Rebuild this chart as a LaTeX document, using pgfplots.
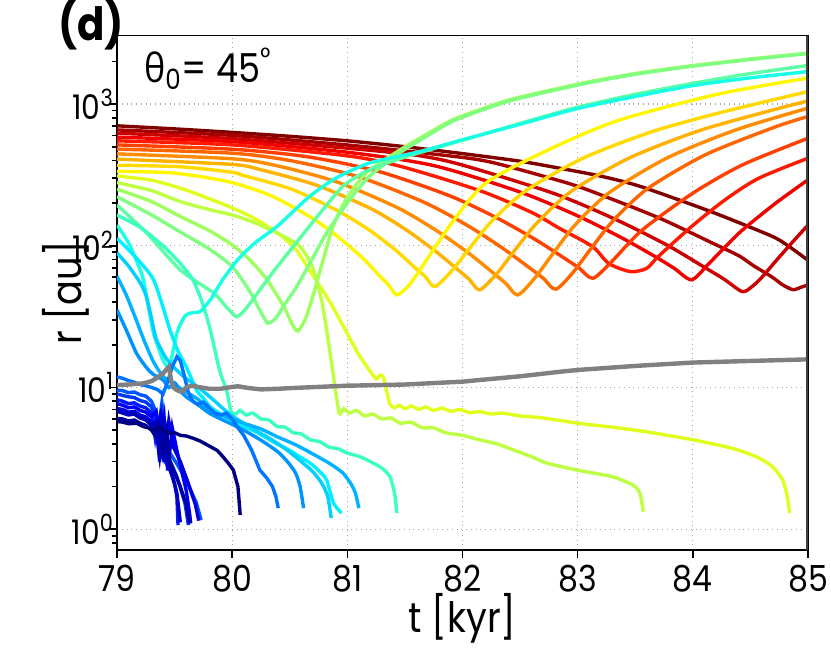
\documentclass[border=0pt]{standalone}
\usepackage{fontspec}
\setmainfont{Poppins}[FakeStretch=0.88]
\newfontfamily\greekfont{Open Sans}[FakeStretch=0.9]
\usepackage{pgfplots}
\pgfplotsset{compat=1.18}
\definecolor{c1}{rgb}{0.5,0,0}
\definecolor{c2}{rgb}{0.65,0,0}
\definecolor{c3}{rgb}{0.80,0,0}
\definecolor{c4}{rgb}{0.95,0,0}
\definecolor{c5}{rgb}{1,0.10,0}
\definecolor{c6}{rgb}{1,0.25,0}
\definecolor{c7}{rgb}{1,0.40,0}
\definecolor{c8}{rgb}{1,0.55,0}
\definecolor{c9}{rgb}{1,0.70,0}
\definecolor{c10}{rgb}{1,0.85,0}
\definecolor{c11}{rgb}{1,0.97,0}
\definecolor{c12}{rgb}{0.88,1,0.12}
\definecolor{c13}{rgb}{0.74,1,0.26}
\definecolor{c14}{rgb}{0.62,1,0.38}
\definecolor{c15}{rgb}{0.50,1,0.50}
\definecolor{c16}{rgb}{0.36,1,0.64}
\definecolor{c17}{rgb}{0.24,1,0.76}
\definecolor{c18}{rgb}{0.10,1,0.90}
\definecolor{c19}{rgb}{0,0.94,1}
\definecolor{c20}{rgb}{0,0.82,1}
\definecolor{c21}{rgb}{0,0.70,1}
\definecolor{c22}{rgb}{0,0.58,1}
\definecolor{c23}{rgb}{0,0.46,1}
\definecolor{c24}{rgb}{0,0.34,1}
\definecolor{c25}{rgb}{0,0.22,1}
\definecolor{c26}{rgb}{0,0.10,1}
\definecolor{c27}{rgb}{0,0,0.98}
\definecolor{c28}{rgb}{0,0,0.86}
\definecolor{c29}{rgb}{0,0,0.74}
\definecolor{c30}{rgb}{0,0,0.62}
\definecolor{c31}{rgb}{0,0,0.5}
\definecolor{gline}{rgb}{0.5,0.5,0.5}
\begin{document}
\begin{tikzpicture}
\useasboundingbox (-58.5bp,-49.5bp) rectangle (357bp,275bp);
\begin{axis}[
  scale only axis, width=345.5bp, height=257.15bp,
  xmin=79, xmax=85, ymode=log, ymin=0.714, ymax=3035,
  xtick={79,80,81,82,83,84,85}, xticklabels={79,80,81,82,83,84,85},
  ytick={1,10,100,1000},
  yticklabels={10\textsuperscript{0},10\textsuperscript{1},10\textsuperscript{2},10\textsuperscript{3}},
  minor ytick={0.8,0.9,2,3,4,5,6,7,8,9,20,30,40,50,60,70,80,90,200,300,400,500,600,700,800,900,2000,3000},
  xtick pos=bottom, ytick pos=left, tick align=outside,
  major tick length=4bp, minor tick length=2.5bp,
  grid=major, grid style={dotted, black!35, line width=0.6bp},
  axis line style={line width=0.8bp},
  every tick/.style={black, line width=0.8bp},
  xticklabel style={font=\fontsize{18}{21}\selectfont},
  yticklabel style={font=\fontsize{17}{20}\selectfont, xshift=6bp},
  xlabel={t [kyr]}, ylabel={r [au]},
  label style={font=\fontsize{21}{25}\selectfont},
  xlabel style={at={(axis description cs:0.5,-0.133)}, anchor=center},
  ylabel style={at={(axis description cs:-0.074,0.5)}, anchor=center},
  every axis plot/.append style={line width=1.7bp},
  clip=true,
]
% ---- red family
\addplot[c1, smooth, tension=0.45] coordinates {(79,702) (79.5,668) (80,631) (80.5,592) (81,550) (81.5,500) (82,447) (82.5,395) (82.84,353) (83.2,310) (83.54,263) (84.11,180) (84.5,135) (84.75,110) (85,79)};
\addplot[c2, smooth, tension=0.45] coordinates {(79,657) (80,601) (81,514) (81.8,439) (82.23,392) (82.84,288) (83.11,244) (83.70,158) (84.17,104.5) (84.40,85) (84.52,73) (84.69,60) (84.78,53) (84.87,49) (84.94,51) (85,53)};
\addplot[c3, smooth, tension=0.45] coordinates {(79,623) (80,570) (81,488) (81.6,435) (81.99,373) (82.80,233) (83.34,152) (83.78,100.7) (84.10,70.6) (84.27,58.2) (84.43,47.5) (84.52,52) (84.60,60) (84.72,78) (84.86,105) (85,140)};
\addplot[c4, smooth, tension=0.45] coordinates {(79,584) (80,543) (81,457) (81.75,368) (82.49,241) (82.99,164) (83.39,113) (83.69,82.3) (83.84,69.2) (83.99,57.6) (84.14,75) (84.29,100) (84.43,129) (84.72,200) (85,292)};
\addplot[c5, smooth, tension=0.45] coordinates {(79,550) (80,515) (81,431) (81.475,361) (82.15,245) (82.6,172) (82.84,133) (83.13,98.6) (83.27,75) (83.46,65.7) (83.6,69.4) (83.70,84) (83.99,137) (84.28,211) (84.57,299) (85,415)};
\addplot[c6, smooth, tension=0.45] coordinates {(79,515) (80,480) (80.65,425) (81.27,335) (81.89,225) (82.30,157) (82.63,111) (82.88,82.2) (83.01,69.9) (83.13,59) (83.28,75) (83.56,129) (84.0,235) (84.43,372) (85,574)};
\addplot[c7, smooth, tension=0.45] coordinates {(79,481) (80,450) (80.52,397) (81.10,306) (81.67,202) (82.05,138) (82.35,96) (82.58,70.1) (82.70,59.1) (82.81,49.4) (82.96,64.9) (83.11,94.2) (83.31,151) (83.61,254) (84.11,439) (84.71,687) (85,817)};
\addplot[c8, smooth, tension=0.45] coordinates {(79,445) (80,411) (80.39,367) (80.91,282) (81.44,185) (81.78,127) (82.06,87.9) (82.27,64.0) (82.38,53.9) (82.48,45) (82.63,59.5) (82.78,86.9) (82.98,141) (83.28,239) (83.78,418) (84.38,660) (85,935)};
\addplot[c9, smooth, tension=0.45] coordinates {(79,409) (80,375) (80.26,342) (80.73,268) (81.21,182) (81.52,128) (81.77,90.9) (81.96,67.8) (82.06,57.8) (82.15,48.9) (82.30,63.9) (82.45,92.1) (82.65,146) (82.95,244) (83.45,417) (84.05,647) (84.65,888) (85,1053)};
\addplot[c10, smooth, tension=0.45] coordinates {(79,370) (79.55,361) (80,330) (80.10,313) (80.52,250) (80.93,174) (81.21,126) (81.43,91.6) (81.59,69.8) (81.68,60.2) (81.76,51.5) (81.91,67) (82.06,95.7) (82.26,151) (82.56,248) (83.06,420) (83.66,644) (84.26,879) (85,1225)};
\addplot[c11, smooth, tension=0.45] coordinates {(79,335) (79.49,326) (79.97,283) (80.34,225) (80.70,156) (80.94,112) (81.14,80.9) (81.28,61.3) (81.36,52.7) (81.43,45) (81.53,52) (81.63,67.5) (81.92,150) (82.21,280) (82.78,490) (83.36,770) (84.23,1180) (85,1523)};
% ---- green / cyan family
\addplot[c12, smooth, tension=0.4] coordinates {(79,311) (79.3,290) (79.55,255) (79.8,215) (80,185) (80.2,155) (80.4,122) (80.55,95) (80.7,62) (80.85,40) (81.0,24) (81.1,17) (81.19,13.3) (81.25,11.5) (81.28,12.2) (81.31,12.0) (81.34,9.5) (81.37,7.6) (81.41,7.2) (81.45,7.5) (81.5,7.1) (81.56,7.4) (81.62,7.0) (81.68,7.3) (81.75,6.9) (81.82,7.15) (81.9,6.8) (81.98,7.0) (82.06,6.65) (82.15,6.75) (82.25,6.5) (82.35,6.6) (82.5,6.3) (82.7,6.1) (83.0,5.6) (83.3,5.25) (83.59,4.88) (84.0,4.28) (84.34,3.73) (84.55,3.25) (84.69,2.77) (84.78,2.23) (84.82,1.70) (84.84,1.30)};
\addplot[c13, smooth, tension=0.4] coordinates {(79,279) (79.3,245) (79.55,205) (79.8,180) (80,165) (80.2,145) (80.4,122) (80.59,98.7) (80.7,70) (80.78,40) (80.84,20) (80.88,11.9) (80.93,6.6) (80.97,7.1) (81.02,6.6) (81.08,6.9) (81.15,6.3) (81.22,6.5) (81.3,6.0) (81.38,6.1) (81.46,5.6) (81.55,5.7) (81.65,5.2) (81.75,5.2) (81.85,4.8) (82.0,4.6) (82.15,4.27) (82.3,4.0) (82.44,3.63) (82.6,3.25) (82.73,2.93) (82.99,2.62) (83.30,2.35) (83.48,2.05) (83.54,1.80) (83.57,1.33)};
\addplot[c14, smooth, tension=0.4] coordinates {(79,251) (79.3,205) (79.55,161) (79.8,128) (80,101.5) (80.15,80) (80.3,58) (80.45,37) (80.52,28) (80.57,25) (80.64,31) (80.72,50) (80.80,85) (80.88,140) (81.0,220) (81.17,330) (81.45,470) (81.63,575) (81.92,778) (82.29,1000) (82.5,1120) (83.07,1420) (83.5,1640) (83.94,1842) (84.5,2080) (85,2286)};
\addplot[c15, smooth, tension=0.4] coordinates {(79,222) (79.3,165) (79.55,125) (79.8,95) (80,71.4) (80.15,48) (80.25,34) (80.31,28.4) (80.38,31) (80.45,38) (80.56,51.5) (80.7,82) (80.82,123) (81.02,211) (81.19,308) (81.45,450) (81.63,555) (81.92,760) (82.29,980) (82.5,1100) (83.07,1400) (83.5,1620) (83.94,1825) (84.5,2060) (85,2270)};
\addplot[c16, smooth, tension=0.4] coordinates {(79,194) (79.25,125) (79.55,67.5) (79.84,46.4) (79.95,37) (80.04,31.6) (80.12,36) (80.25,50) (80.39,71) (80.67,137) (80.96,262) (81.19,344) (81.45,410) (81.63,455) (82.0,555) (82.5,730) (83.0,950) (83.5,1170) (84.0,1400) (84.5,1640) (85,1871)};
\addplot[c17, smooth, tension=0.4] coordinates {(79,165) (79.2,135) (79.4,100) (79.55,75) (79.66,57.3) (79.74,40) (79.81,25.5) (79.89,13.3) (79.95,9.6) (79.99,6.8) (80.03,6.5) (80.07,6.9) (80.12,6.4) (80.18,6.6) (80.25,6.0) (80.32,5.9) (80.39,5.3) (80.46,5.25) (80.53,4.8) (80.6,4.7) (80.68,4.27) (80.76,4.15) (80.84,3.8) (80.92,3.7) (81.0,3.45) (81.11,3.25) (81.2,3.0) (81.3,2.7) (81.37,2.35) (81.41,1.8) (81.43,1.30)};
\addplot[c18, smooth, tension=0.4] coordinates {(79,140) (79.1,105) (79.17,78) (79.23,57) (79.31,25.5) (79.36,19) (79.40,15.6) (79.45,13.7) (79.48,17) (79.52,24.2) (79.56,29) (79.60,32.5) (79.66,33.8) (79.72,34.3) (79.81,41.5) (79.92,58) (80.05,80) (80.2,105) (80.39,137) (80.67,222) (80.9,300) (81.19,383) (81.63,462) (82.0,560) (82.5,720) (83.0,930) (83.5,1130) (84.0,1350) (84.5,1530) (85,1695)};
\addplot[c19, smooth, tension=0.4] coordinates {(79,113) (79.15,85) (79.32,57) (79.46,25.5) (79.53,18) (79.60,14.1) (79.69,9.6) (79.75,8.4) (79.81,7.3) (79.89,6.6) (79.98,5.9) (80.10,5.3) (80.2,4.9) (80.3,4.4) (80.39,4.0) (80.5,3.6) (80.6,3.2) (80.68,2.92) (80.75,2.6) (80.82,2.23) (80.88,1.53) (80.95,1.30)};
\addplot[c20, smooth, tension=0.4] coordinates {(79,89) (79.1,72) (79.2,55) (79.25,45) (79.29,33.4) (79.34,22.1) (79.42,16.4) (79.49,14.0) (79.58,11.9) (79.66,10.7) (79.75,9.4) (79.85,8.0) (79.93,7.0) (80.0,6.3) (80.1,5.6) (80.2,5.0) (80.3,4.5) (80.4,4.0) (80.5,3.5) (80.6,3.0) (80.7,2.55) (80.78,2.1) (80.83,1.7) (80.86,1.2)};
\addplot[c21, smooth, tension=0.4] coordinates {(79,61) (79.08,45) (79.16,31) (79.24,21) (79.32,15) (79.4,12) (79.5,10.5) (79.6,9.3) (79.7,8.3) (79.81,6.8) (79.9,6.4) (80.0,6.0) (80.1,5.6) (80.25,5.1) (80.39,4.5) (80.55,3.95) (80.7,3.4) (80.85,2.9) (80.96,2.5) (81.03,2.1) (81.07,1.8) (81.1,1.41)};
\addplot[c22, smooth, tension=0.4] coordinates {(79,35.3) (79.08,25.5) (79.17,17.4) (79.26,13.7) (79.32,12.3) (79.40,11.3) (79.45,10.0) (79.5,10.8) (79.55,9.5) (79.6,8.6) (79.7,7.6) (79.8,6.6) (79.9,6.0) (80.0,5.5) (80.1,5.0) (80.2,4.5) (80.3,4.0) (80.4,3.5) (80.48,3.0) (80.55,2.5) (80.59,2.0) (80.62,1.41)};
% ---- inner cluster
\addplot[c23] coordinates {(79,11.9) (79.05,11.6) (79.1,11.2) (79.15,10.9) (79.2,10.5) (79.25,10.3) (79.3,10.0) (79.35,9.7) (79.4,9.0) (79.44,11) (79.48,14) (79.52,16.5) (79.55,15.5) (79.58,12.5) (79.62,9.2) (79.66,8.0) (79.7,7.6) (79.75,7.9) (79.8,7.2) (79.85,6.6) (79.9,6.4) (79.95,6.6) (80.0,6.0) (80.05,5.2) (80.1,4.6) (80.17,3.6) (80.24,2.62) (80.3,2.3) (80.35,2.0) (80.38,1.7) (80.40,1.41)};
\addplot[c24] coordinates {(79,9.6) (79.05,9.5) (79.1,9.2) (79.15,9.3) (79.2,8.9) (79.25,8.7) (79.3,8.0) (79.33,7.0) (79.36,5.0) (79.39,7.8) (79.42,4.5) (79.46,3.44) (79.52,2.9) (79.60,2.23) (79.69,1.53) (79.73,1.16)};
\addplot[c25] coordinates {(79,9.0) (79.05,8.8) (79.1,8.6) (79.15,8.5) (79.2,8.1) (79.25,7.9) (79.3,7.3) (79.34,5.5) (79.37,3.0) (79.40,6.5) (79.43,3.44) (79.48,2.8) (79.52,2.35) (79.59,1.53) (79.62,1.07)};
\addplot[c26] coordinates {(79,8.2) (79.05,8.0) (79.1,7.7) (79.15,7.8) (79.2,7.4) (79.25,7.2) (79.3,6.6) (79.33,4.5) (79.35,6.0) (79.37,3.44) (79.42,3.0) (79.46,2.62) (79.5,2.1) (79.52,1.70) (79.53,1.07)};
\addplot[c27] coordinates {(79,7.7) (79.05,7.5) (79.1,7.2) (79.15,7.3) (79.2,6.9) (79.25,6.7) (79.3,6.2) (79.34,6.8) (79.38,4.0) (79.41,6.0) (79.44,2.6) (79.48,5.2) (79.52,3.6) (79.56,2.6) (79.6,1.9) (79.63,1.3) (79.64,1.1)};
\addplot[c28] coordinates {(79,7.1) (79.05,7.0) (79.1,6.7) (79.15,6.8) (79.2,6.4) (79.25,6.2) (79.3,5.7) (79.35,5.2) (79.38,6.5) (79.41,3.0) (79.45,5.8) (79.49,3.8) (79.55,3.0) (79.62,2.1) (79.68,1.5) (79.71,1.15)};
\addplot[c29] coordinates {(79,6.8) (79.05,6.6) (79.1,6.4) (79.15,6.5) (79.2,6.1) (79.25,5.9) (79.3,5.4) (79.33,5.7) (79.37,3.3) (79.4,5.5) (79.44,2.9) (79.48,2.4) (79.52,1.8) (79.55,1.12)};
\addplot[c30] coordinates {(79,6.06) (79.05,6.0) (79.1,5.8) (79.15,5.9) (79.2,5.6) (79.25,5.4) (79.3,5.0) (79.33,4.6) (79.36,5.4) (79.4,3.4) (79.43,4.8) (79.46,3.0) (79.5,2.5) (79.55,2.0) (79.6,1.5) (79.63,1.1)};
\addplot[c31] coordinates {(79,5.75) (79.05,5.7) (79.1,5.55) (79.17,5.6) (79.23,5.3) (79.29,5.16) (79.33,5.0) (79.37,5.3) (79.41,4.9) (79.45,4.76) (79.5,4.8) (79.55,4.6) (79.6,4.55) (79.66,4.39) (79.72,4.2) (79.81,3.83) (79.87,3.6) (79.92,3.25) (79.97,2.9) (80.01,2.62) (80.05,2.0) (80.07,1.26)};
% ---- grey
\addplot[gline, line width=2.2bp] coordinates {(79,10.4) (79.1,10.5) (79.23,10.7) (79.3,11.1) (79.34,11.6) (79.40,12.6) (79.45,14.0) (79.47,11.3) (79.49,10.0) (79.52,9.6) (79.56,9.3) (79.6,10.0) (79.65,10.3) (79.7,10.1) (79.8,9.8) (79.9,9.8) (80.0,10.1) (80.05,10.2) (80.15,9.9) (80.25,9.7) (80.4,9.8) (80.5,9.9) (80.75,10.1) (81.0,10.3) (81.5,10.5) (82.0,11.0) (82.15,11.3) (82.5,12.0) (82.84,12.9) (83.0,13.3) (83.5,14.2) (84.0,15.0) (84.5,15.4) (85,15.8)};
\draw[line width=1.6bp, black!75] (rel axis cs:1,0) -- (rel axis cs:1,1);
\end{axis}
\node[font=\bfseries\fontsize{23}{27}\selectfont, anchor=center] at (-13bp,263bp) {(d)};
\node[font=\fontsize{20}{24}\selectfont, anchor=base west] at (10bp,233.5bp) {{\greekfont θ}\textsubscript{0}= 45\textsuperscript{°}};
\end{tikzpicture}
\end{document}
